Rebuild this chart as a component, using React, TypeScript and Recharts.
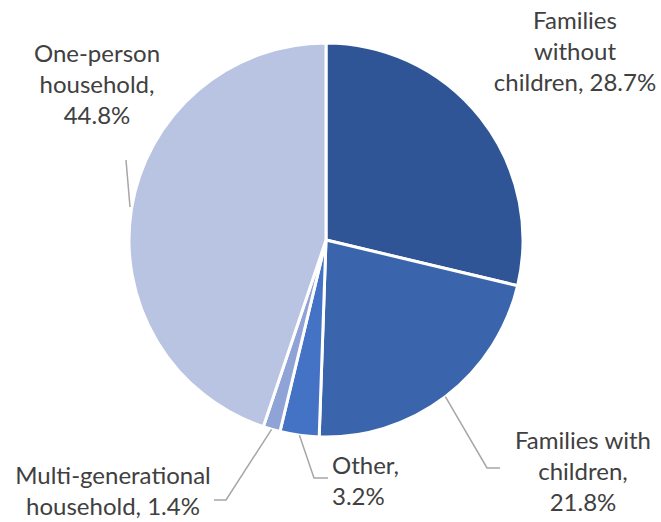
import { PieChart, Pie, Cell } from "recharts";

const categories = [
  "Families without children",
  "Families with children",
  "Other",
  "Multi-generational household",
  "One-person household",
];
const shares = [28.7, 21.8, 3.2, 1.4, 44.8];
const labelLines = [
  ["Families", "without", "children, 28.7%"],
  ["Families with", "children,", "21.8%"],
  ["Other,", "3.2%"],
  ["Multi-generational", "household, 1.4%"],
  ["One-person", "household,", "44.8%"],
];

const COLORS = ["#2F5597", "#3A64AC", "#4472C4", "#8FA3D6", "#B9C3E2"];
const FONT = "Lato, 'Open Sans', sans-serif";
const LINE_H = 31;

// label placement (text anchor point + leader line bends)
type Layout = {
  x: number;
  y: number;
  anchor: "start" | "middle" | "end";
  leader?: [number, number][];
  leaderStart?: [number, number];
};
const layouts: Layout[] = [
  { x: 575, y: 29, anchor: "middle" },
  { x: 583, y: 449, anchor: "middle", leader: [[487, 468], [500, 468]] },
  { x: 332, y: 474, anchor: "start", leader: [[314, 478], [328, 478]] },
  { x: 113, y: 484, anchor: "middle", leader: [[226, 500], [214, 500]] },
  { x: 97, y: 62, anchor: "middle", leaderStart: [130, 207], leader: [[126, 160]] },
];

const data = categories.map((name, i) => ({ name, value: shares[i] }));

const RAD = Math.PI / 180;

function renderLabel(props: any) {
  const { cx, cy, outerRadius, midAngle, index } = props;
  const lay = layouts[index];
  const lines = labelLines[index];
  const sx = cx + outerRadius * Math.cos(-midAngle * RAD);
  const sy = cy + outerRadius * Math.sin(-midAngle * RAD);
  const start = lay.leaderStart ?? [sx, sy];
  const pts = lay.leader ? [start, ...lay.leader] : null;
  return (
    <g key={`lbl-${index}`}>
      {pts ? (
        <polyline
          points={pts.map((p) => p.join(",")).join(" ")}
          fill="none"
          stroke="#A6A6A6"
          strokeWidth={1.5}
        />
      ) : null}
      <text
        x={lay.x}
        y={lay.y}
        textAnchor={lay.anchor}
        fill="#404040"
        fontSize={24}
        fontFamily={FONT}
      >
        {lines.map((ln, j) => (
          <tspan key={j} x={lay.x} dy={j === 0 ? 0 : LINE_H}>
            {ln}
          </tspan>
        ))}
      </text>
    </g>
  );
}

export default function App() {
  return (
    <div style={{ position: "absolute", left: 0, top: 0, width: 661, height: 522, background: "#fff" }}>
      <PieChart width={661} height={522} margin={{ top: 0, right: 0, bottom: 0, left: 0 }}>
        <Pie
          data={data}
          dataKey="value"
          nameKey="name"
          cx={326}
          cy={240}
          outerRadius={197}
          startAngle={90}
          endAngle={-270}
          stroke="#fff"
          strokeWidth={3}
          label={renderLabel}
          labelLine={false}
          isAnimationActive={false}
        >
          {data.map((d, i) => (
            <Cell key={d.name} fill={COLORS[i]} />
          ))}
        </Pie>
      </PieChart>
    </div>
  );
}
